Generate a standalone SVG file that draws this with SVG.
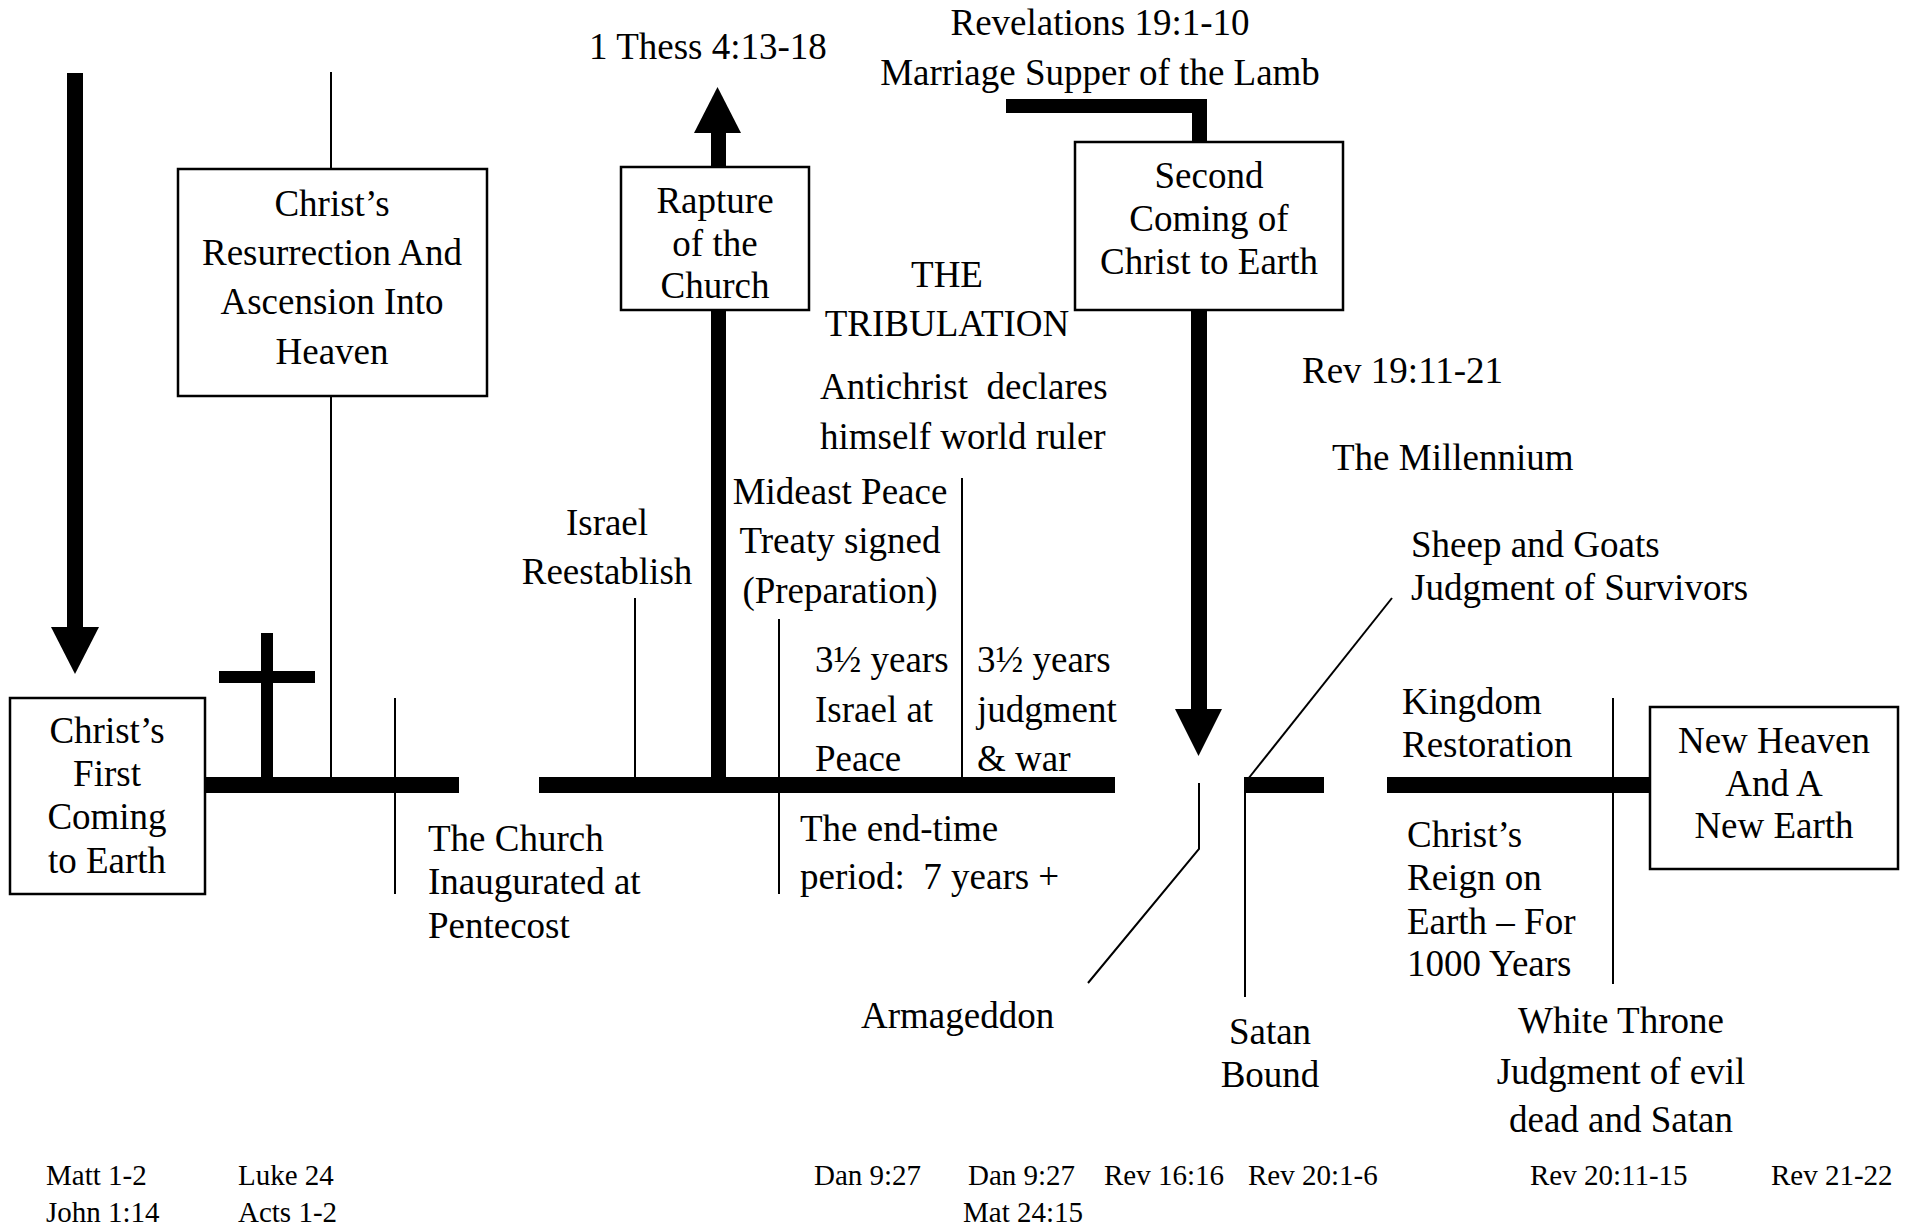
<svg xmlns="http://www.w3.org/2000/svg" width="1909" height="1227" viewBox="0 0 1909 1227">
<style>
text{font-family:"Liberation Serif","Times New Roman",serif;font-size:37px;fill:#000}
.c{text-anchor:middle}
.s{font-size:29px}
.box{fill:#fff;stroke:#000;stroke-width:2.5}
.thin{stroke:#000;stroke-width:2;fill:none}
.thick{fill:#000}
</style>
<rect width="1909" height="1227" fill="#fff"/>
<g id="connectors">
  <line class="thin" x1="331" y1="72" x2="331" y2="778"/>
  <line class="thin" x1="395" y1="698" x2="395" y2="894"/>
  <line class="thin" x1="635" y1="598" x2="635" y2="778"/>
  <line class="thin" x1="779" y1="619" x2="779" y2="894"/>
  <line class="thin" x1="962" y1="478" x2="962" y2="778"/>
  <polyline class="thin" points="1199,783 1199,849 1088,983"/>
  <line class="thin" x1="1245" y1="785" x2="1245" y2="997"/>
  <line class="thin" x1="1248" y1="779" x2="1392" y2="598"/>
  <line class="thin" x1="1613" y1="698" x2="1613" y2="984"/>
  <rect class="thick" x="205" y="777" width="254" height="16"/>
  <rect class="thick" x="539" y="777" width="576" height="16"/>
  <rect class="thick" x="1244" y="777" width="80" height="16"/>
  <rect class="thick" x="1387" y="777" width="263" height="16"/>
  <rect class="thick" x="261" y="633" width="12" height="150"/>
  <rect class="thick" x="219" y="671" width="96" height="12"/>
  <rect class="thick" x="67" y="73" width="16" height="556"/>
  <polygon class="thick" points="51,627 99,627 75,674"/>
  <rect class="thick" x="711" y="131" width="15" height="650"/>
  <polygon class="thick" points="694,133 741,133 717.5,87"/>
  <polygon class="thick" points="1006,99 1207,99 1207,145 1192,145 1192,113 1006,113"/>
  <rect class="thick" x="1191" y="305" width="16" height="406"/>
  <polygon class="thick" points="1175,709 1222,709 1198.5,756"/>
</g>
<g id="node-first-coming">
  <rect class="box" x="10" y="698" width="195" height="196"/>
  <text class="c" x="107" y="743">Christ’s</text>
  <text class="c" x="107" y="786">First</text>
  <text class="c" x="107" y="829">Coming</text>
  <text class="c" x="107" y="873">to Earth</text>
</g>
<g id="node-resurrection">
  <rect class="box" x="178" y="169" width="309" height="227"/>
  <text class="c" x="332" y="216">Christ’s</text>
  <text class="c" x="332" y="265">Resurrection And</text>
  <text class="c" x="332" y="314">Ascension Into</text>
  <text class="c" x="332" y="364">Heaven</text>
</g>
<g id="node-church">
  <text x="428" y="851">The Church</text>
  <text x="428" y="894">Inaugurated at</text>
  <text x="428" y="938">Pentecost</text>
</g>
<g id="node-israel">
  <text class="c" x="607" y="535">Israel</text>
  <text class="c" x="607" y="584">Reestablish</text>
</g>
<g id="node-thess">
  <text class="c" x="708" y="59">1 Thess 4:13-18</text>
</g>
<g id="node-rapture">
  <rect class="box" x="621" y="167" width="188" height="143"/>
  <text class="c" x="715" y="213">Rapture</text>
  <text class="c" x="715" y="256">of the</text>
  <text class="c" x="715" y="298">Church</text>
</g>
<g id="node-revelations">
  <text class="c" x="1100" y="35">Revelations 19:1-10</text>
  <text class="c" x="1100" y="85">Marriage Supper of the Lamb</text>
</g>
<g id="node-second-coming">
  <rect class="box" x="1075" y="142" width="268" height="168"/>
  <text class="c" x="1209" y="188">Second</text>
  <text class="c" x="1209" y="231">Coming of</text>
  <text class="c" x="1209" y="274">Christ to Earth</text>
</g>
<g id="node-tribulation">
  <text class="c" x="947" y="287">THE</text>
  <text class="c" x="947" y="336">TRIBULATION</text>
</g>
<g id="node-antichrist">
  <text x="820" y="399" xml:space="preserve">Antichrist  declares</text>
  <text x="820" y="449">himself world ruler</text>
</g>
<g id="node-treaty">
  <text class="c" x="840" y="504">Mideast Peace</text>
  <text class="c" x="840" y="553">Treaty signed</text>
  <text class="c" x="840" y="603">(Preparation)</text>
</g>
<g id="node-peace">
  <text x="815" y="672">3½ years</text>
  <text x="815" y="722">Israel at</text>
  <text x="815" y="771">Peace</text>
</g>
<g id="node-judgment">
  <text x="977" y="672">3½ years</text>
  <text x="977" y="722">judgment</text>
  <text x="977" y="771">&amp; war</text>
</g>
<g id="node-endtime">
  <text x="800" y="841">The end-time</text>
  <text x="800" y="889" xml:space="preserve">period:  7 years +</text>
</g>
<g id="node-armageddon">
  <text x="861" y="1028">Armageddon</text>
</g>
<g id="node-rev19">
  <text x="1302" y="383">Rev 19:11-21</text>
</g>
<g id="node-millennium">
  <text x="1332" y="470">The Millennium</text>
</g>
<g id="node-sheep">
  <text x="1411" y="557">Sheep and Goats</text>
  <text x="1411" y="600">Judgment of Survivors</text>
</g>
<g id="node-satan">
  <text class="c" x="1270" y="1044">Satan</text>
  <text class="c" x="1270" y="1087">Bound</text>
</g>
<g id="node-kingdom">
  <text x="1402" y="714">Kingdom</text>
  <text x="1402" y="757">Restoration</text>
</g>
<g id="node-reign">
  <text x="1407" y="847">Christ’s</text>
  <text x="1407" y="890">Reign on</text>
  <text x="1407" y="934">Earth – For</text>
  <text x="1407" y="976">1000 Years</text>
</g>
<g id="node-new-heaven">
  <rect class="box" x="1650" y="707" width="248" height="162"/>
  <text class="c" x="1774" y="753">New Heaven</text>
  <text class="c" x="1774" y="796">And A</text>
  <text class="c" x="1774" y="838">New Earth</text>
</g>
<g id="node-white-throne">
  <text class="c" x="1621" y="1033">White Throne</text>
  <text class="c" x="1621" y="1084">Judgment of evil</text>
  <text class="c" x="1621" y="1132">dead and Satan</text>
</g>
<g id="references">
  <text class="s" x="46" y="1185">Matt 1-2</text>
  <text class="s" x="46" y="1222">John 1:14</text>
  <text class="s" x="238" y="1185">Luke 24</text>
  <text class="s" x="238" y="1222">Acts 1-2</text>
  <text class="s" x="814" y="1185">Dan 9:27</text>
  <text class="s" x="968" y="1185">Dan 9:27</text>
  <text class="s" x="963" y="1222">Mat 24:15</text>
  <text class="s" x="1104" y="1185">Rev 16:16</text>
  <text class="s" x="1248" y="1185">Rev 20:1-6</text>
  <text class="s" x="1530" y="1185">Rev 20:11-15</text>
  <text class="s" x="1771" y="1185">Rev 21-22</text>
</g>
</svg>
